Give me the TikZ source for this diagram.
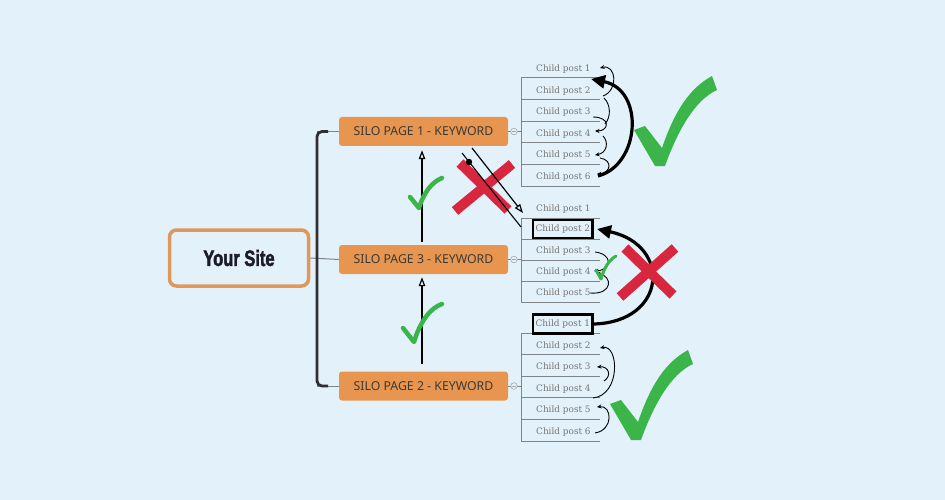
\documentclass[tikz,border=0pt]{standalone}
\usepackage{fontspec}
\setmainfont{DejaVu Serif}
\newfontfamily\silofont{Noto Sans}
\newfontfamily\sitefont[FakeStretch=0.74, BoldFeatures={FakeBold=2}]{Liberation Sans}
\usetikzlibrary{arrows.meta}
\definecolor{bgblue}{HTML}{E3F1FA}
\definecolor{siloorange}{HTML}{E8964F}
\definecolor{siteorange}{HTML}{E0975A}
\definecolor{silotext}{HTML}{3A3A3A}
\definecolor{sitetext}{HTML}{1C1C28}
\definecolor{childgray}{HTML}{767676}
\definecolor{linegray}{HTML}{7F8489}
\definecolor{chkgreen}{HTML}{3BB54A}
\definecolor{xred}{HTML}{D7263D}
\definecolor{bracketc}{HTML}{2E2E33}
\begin{document}
\begin{tikzpicture}[x=1pt,y=-1pt,
  silo/.style={fill=siloorange, rounded corners=3pt, minimum width=169pt, minimum height=29pt,
     font=\silofont\fontsize{12.3}{14}\selectfont, text=silotext, inner sep=0pt},
  child/.style={anchor=west, font=\fontsize{8.9}{10}\selectfont, text=childgray, inner sep=0pt},
  boxedchild/.style={anchor=west, font=\fontsize{8.9}{10}\selectfont, text=childgray,
     draw=black, line width=2.3pt, inner xsep=2.5pt, minimum height=18pt},
  uline/.style={draw=linegray, line width=1pt},
  conn/.style={draw=linegray, line width=1pt},
  small/.style={draw=black, line width=0.9pt, -{Stealth[length=4.5pt,width=4pt]}},
  thick arrow/.style={draw=black, line width=3.2pt, -{Triangle[length=14pt,width=13pt]}},
  open arrow/.style={draw=black, line width=1.2pt, -{Triangle[open,length=9pt,width=6.5pt,line width=1.2pt]}},
  xstroke/.style={draw=xred, line width=10pt, line cap=butt},
  smallcheck/.style={draw=chkgreen, line width=#1, line cap=round, line join=round},
  bigcheck/.pic={\fill[chkgreen] (0,0) -- (11,-4) -- (28,18) .. controls (41,-20) and (56,-42) .. (78,-54)
     -- (83,-40) .. controls (61,-30) and (44,0) .. (31,36) -- (21,36) -- cycle;}
]
\fill[bgblue] (0,0) rectangle (945,500);
\useasboundingbox (0,0) rectangle (945,500);

% central node
\node[draw=siteorange, line width=3.5pt, rounded corners=7pt, minimum width=139pt, minimum height=56pt,
      font=\sitefont\bfseries\fontsize{22.3}{24}\selectfont, text=sitetext] (site) at (239,258) {Your Site};

% silo pages
\node[silo] (s1) at (423.5,131.5) {SILO PAGE 1 - KEYWORD};
\node[silo] (s3) at (423.5,259.5) {SILO PAGE 3 - KEYWORD};
\node[silo] (s2) at (423.5,386) {SILO PAGE 2 - KEYWORD};

% bracket
\coordinate (bt) at (317,131.5);
\coordinate (bb) at (317,386);
\draw[conn] (bt) -- (s1.west);
\draw[conn] (bb) -- (s2.west);
\draw[conn] (site.east) -- (s3.west);
\draw[draw=bracketc, line width=2.8pt, rounded corners=5pt] (328,131.5) -- (bt) -- (bb) -- (328,386);

% vertical arrows between silos
\coordinate (ax) at (422,0);
\draw[open arrow] ([yshift=3pt]s3.north -| ax) -- ([yshift=-4pt]s1.south -| ax);
\draw[open arrow] ([yshift=7pt]s2.north -| ax) -- ([yshift=-3pt]s3.south -| ax);

% child groups
\foreach \i in {1,...,6}{
  \pgfmathsetmacro{\u}{78+21.6*(\i-1)}
  \draw[uline] (521,\u) -- (600,\u);
  \node[child] (ga\i) at (536,\u-9) {Child post \i};
}
\draw[uline] (521,78) -- (521,186);
\foreach \i in {1,3,4,5}{
  \pgfmathsetmacro{\u}{218+21*(\i-1)}
  \node[child] (gb\i) at (536,\u-9) {Child post \i};
}
\foreach \i in {1,...,5}{
  \pgfmathsetmacro{\u}{218+21*(\i-1)}
  \draw[uline] (521,\u) -- (600,\u);
}
\node[boxedchild] (gb2) at (532,229) {Child post 2};
\draw[uline] (521,218) -- (521,302);
\foreach \i in {2,...,6}{
  \pgfmathsetmacro{\u}{333+21.6*(\i-1)}
  \node[child] (gc\i) at (536,\u-9) {Child post \i};
}
\foreach \i in {1,...,6}{
  \pgfmathsetmacro{\u}{333+21.6*(\i-1)}
  \draw[uline] (521,\u) -- (600,\u);
}
\node[boxedchild, minimum height=19pt] (gc1) at (532,324) {Child post 1};
\draw[uline] (521,333) -- (521,441);

% collapse markers and links to groups
\foreach \y/\s in {131.5/s1,259.5/s3,386/s2}{
  \draw[conn, line width=0.6pt] (\s.east) -- (521,\y);
  \draw[draw=linegray!70, line width=0.6pt, fill=bgblue] (514,\y) circle (3.3pt);
  \draw[draw=linegray!70, line width=0.5pt] (512,\y) -- (516,\y);
}

% group 1 small arrows
\draw[small] (603,96) .. controls (619,90) and (616,64) .. (600,68);
\draw[small] (593,117) .. controls (611,117) and (609,131) .. (595,131);
\draw[draw=black, line width=0.9pt] (604,98) .. controls (611,105) and (611,117) .. (605,124);
\draw[small] (603,136) .. controls (609,142) and (607,153) .. (595,155);
\draw[small] (600,158) .. controls (613,160) and (611,173) .. (597,174);
\draw[thick arrow] (598,176) .. controls (640,165) and (645,90) .. (591,79);

% group 2 small arrows
\draw[small] (595,252) .. controls (613,254) and (612,270) .. (594,271);
\draw[small] (590,293) .. controls (613,295) and (613,276) .. (596,273);

% group 3 small arrows
\draw[small] (593,398) .. controls (621,395) and (619,344) .. (600,348);
\draw[small] (604,381) .. controls (612,376) and (609,366) .. (597,367);
\draw[small] (595,433) .. controls (614,430) and (612,405) .. (597,407);

% red X 1 and diagonal links
\draw[xstroke] (460,163) -- (508,210);
\draw[xstroke] (512,164) -- (455,211);
\draw[draw=black, line width=1.1pt] (462,153) -- (521,227);
\fill[black] (469,162) circle (3.2pt);
\draw[open arrow] (472,148) -- (523,213);

% thick arrow group 3 -> group 2
\draw[thick arrow] (gc1.east) .. controls (667,322) and (672,245) .. (597,229);

% red X 2
\draw[xstroke] (625,248) -- (673,295);
\draw[xstroke] (675,248) -- (620,297);

% green checks
\pic at (634,130) {bigcheck};
\pic at (610,404) {bigcheck};
\draw[smallcheck=4.5pt] (410,197) -- (419,208) .. controls (424,192) and (432,182) .. (442,178);
\draw[smallcheck=4.5pt] (403,328) -- (414,342) .. controls (420,322) and (430,308) .. (442,304);
\draw[smallcheck=3pt] (596,270) -- (601,279) .. controls (604,268) and (609,260) .. (616,256);
\end{tikzpicture}
\end{document}
